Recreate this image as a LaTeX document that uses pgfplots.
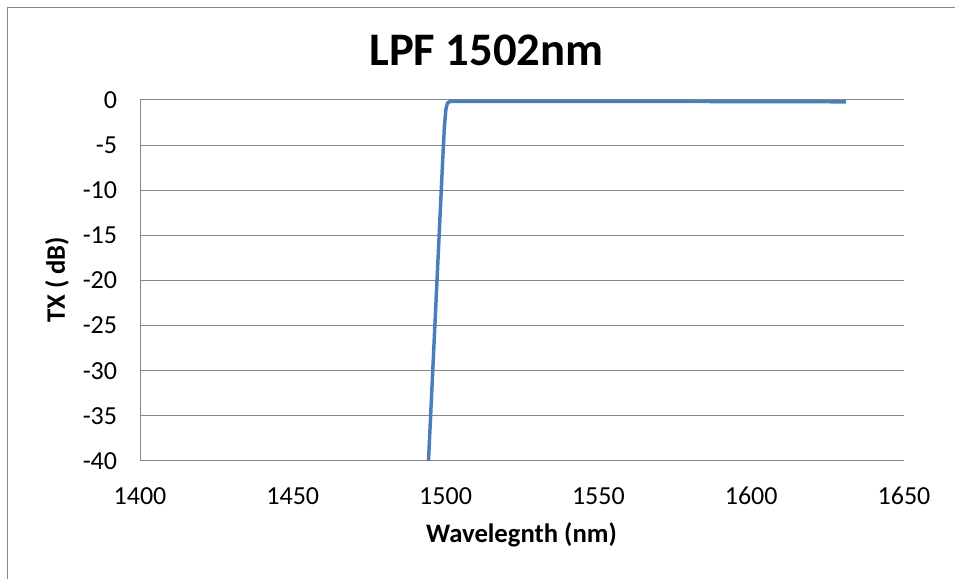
\documentclass[border=0pt]{standalone}
\usepackage{pgfplots}
\pgfplotsset{compat=1.18}
\usepackage{fontspec}
\setmainfont{Carlito}
\definecolor{gridgray}{HTML}{868686}
\definecolor{exblue}{HTML}{4A7EBB}
\begin{document}
\begin{tikzpicture}
\path[use as bounding box] (0,0) rectangle (716.25bp,434.25bp);
\draw[gridgray, line width=0.75bp] (5.6bp,0) -- (5.6bp,428.6bp) -- (716.25bp,428.6bp);
\begin{axis}[
  at={(105bp,88.5bp)}, anchor=south west,
  scale only axis, width=573bp, height=270.75bp,
  xmin=1400, xmax=1650, ymin=-40, ymax=0,
  xtick={1400,1450,...,1650}, ytick={-40,-35,...,0},
  axis lines*=left,
  axis line style={gridgray, line width=0.75bp, -},
  ymajorgrids, grid style={gridgray, line width=0.75bp},
  major tick length=0pt,
  /pgf/number format/assume math mode=true,
  /pgf/number format/1000 sep={},
  ticklabel style={font=\fontsize{19.5bp}{22bp}\selectfont, inner sep=0pt},
  yticklabel style={anchor=east, xshift=-17bp},
  xticklabel style={anchor=north, yshift=-19.5bp},
  title={LPF 1502nm},
  title style={at={(axis description cs:0.4535,1.115)}, anchor=center, font=\fontsize{35bp}{40bp}\selectfont\bfseries, inner sep=0pt},
  xlabel={Wavelegnth (nm)},
  xlabel style={at={(axis description cs:0.4993,-0.2244)}, anchor=base, font=\fontsize{20bp}{24bp}\selectfont\bfseries, inner sep=0pt},
  ylabel={TX ( dB)},
  ylabel style={at={(axis description cs:-0.0982,0.5014)}, anchor=base, font=\fontsize{20bp}{24bp}\selectfont\bfseries, inner sep=0pt},
  clip=false,
]
\addplot[exblue, line width=2.6bp, line join=round] coordinates {
(1494.4,-40) (1499.0,-7) (1499.6,-3) (1500.1,-1) (1500.6,-0.35) (1501.5,-0.15) (1560,-0.15) (1631,-0.2)
};
\end{axis}
\end{tikzpicture}
\end{document}
